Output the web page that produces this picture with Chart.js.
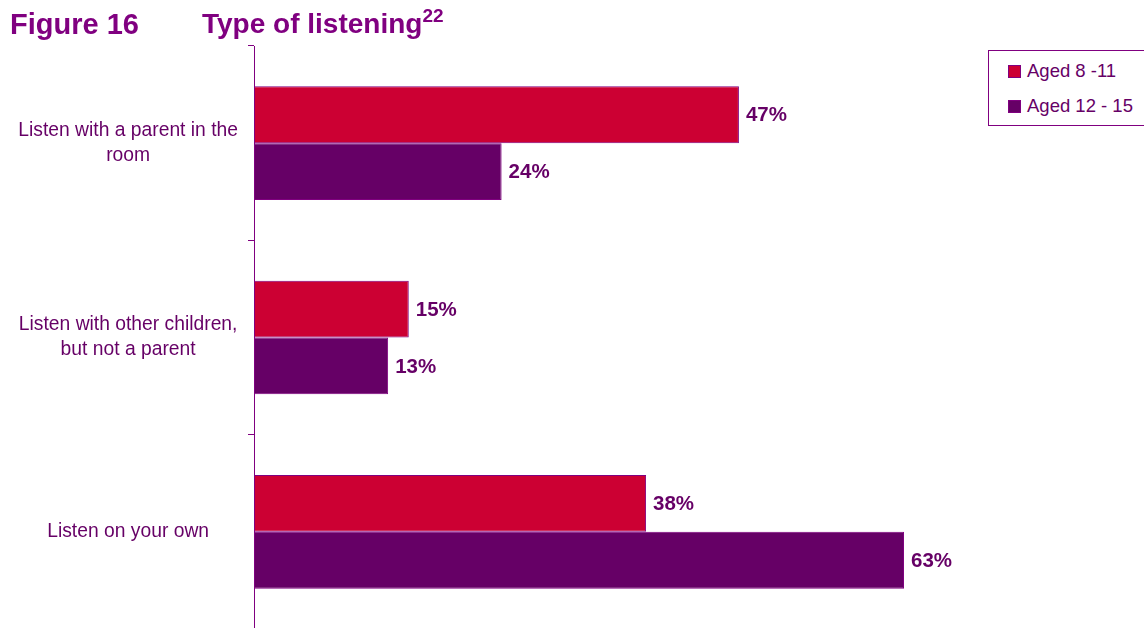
<!DOCTYPE html>
<html>
<head>
<meta charset="utf-8">
<script src="https://cdn.jsdelivr.net/npm/chart.js@4.4.1/dist/chart.umd.min.js"></script>
<style>
  html, body { margin: 0; padding: 0; background: #fff; width: 1144px; height: 628px; overflow: hidden; }
  #wrap { position: absolute; left: 0; top: 0; width: 1144px; height: 700px; }
  .title { position: absolute; top: 8px; font-family: "Liberation Sans", Arial, sans-serif; font-weight: bold; font-size: 29px; line-height: 32px; color: #800080; white-space: nowrap; }
  .title sup { font-size: 19px; position: relative; top: -2px; vertical-align: top; line-height: 19px; }
  #legend { position: absolute; left: 988px; top: 50px; width: 170px; height: 74px; border: 1px solid #800080; background: #fff;
            font-family: "Liberation Sans", Arial, sans-serif; font-size: 18.5px; color: #660066; }
  .li { position: absolute; left: 19px; height: 20px; line-height: 20px; white-space: nowrap; }
  .sw { display: inline-block; width: 13px; height: 13px; vertical-align: -1px; margin-right: 6px; box-sizing: border-box; border: 1px solid #800080; }
</style>
</head>
<body>
<div id="wrap"><canvas id="c" width="1144" height="700"></canvas></div>
<div class="title" style="left:10px">Figure 16</div>
<div class="title" style="left:202px; font-size:28px">Type of listening<sup>22</sup></div>
<div id="legend"></div>
<script>
const categories = [
  ["Listen with a parent in the", "room"],
  ["Listen with other children,", "but not a parent"],
  ["Listen on your own"]
];
const seriesNames = ["Aged 8 -11", "Aged 12 - 15"];
const aged8to11 = [47, 15, 38];
const aged12to15 = [24, 13, 63];
const seriesColors = ["#CC0033", "#660066"];

const legendEl = document.getElementById('legend');
seriesNames.forEach((n, i) => {
  const d = document.createElement('div');
  d.className = 'li';
  d.style.top = (10 + i * 35) + 'px';
  d.innerHTML = '<span class="sw" style="background:' + seriesColors[i] + '"></span>' + n;
  legendEl.appendChild(d);
});

const valueLabels = {
  id: 'valueLabels',
  afterDatasetsDraw(chart) {
    const ctx = chart.ctx;
    ctx.save();
    ctx.font = 'bold 20.5px "Liberation Sans", Arial, sans-serif';
    ctx.fillStyle = '#660066';
    ctx.textAlign = 'left';
    ctx.textBaseline = 'middle';
    chart.data.datasets.forEach((ds, di) => {
      chart.getDatasetMeta(di).data.forEach((bar, i) => {
        ctx.fillText(ds.data[i] + '%', bar.x + 7, bar.y + 1);
      });
    });
    ctx.restore();
  }
};

const chart = new Chart(document.getElementById('c'), {
  type: 'bar',
  data: {
    labels: categories,
    datasets: [
      { label: seriesNames[0], data: aged8to11, backgroundColor: seriesColors[0], borderColor: '#800080', borderWidth: 1, borderSkipped: false },
      { label: seriesNames[1], data: aged12to15, backgroundColor: seriesColors[1], borderColor: '#800080', borderWidth: 1, borderSkipped: false }
    ]
  },
  options: {
    indexAxis: 'y',
    responsive: false,
    animation: false,
    devicePixelRatio: 1,
    layout: { padding: { left: 0, right: 13, top: 46, bottom: 71 } },
    datasets: { bar: { categoryPercentage: 0.585, barPercentage: 1.0 } },
    plugins: { legend: { display: false }, tooltip: { enabled: false } },
    scales: {
      x: { display: false, min: 0, max: 85 },
      y: {
        offset: true,
        border: { display: true, color: '#800080', width: 1 },
        grid: { offset: true, drawOnChartArea: false, drawTicks: true, tickLength: 6, color: '#800080' },
        ticks: {
          crossAlign: 'center',
          color: '#660066',
          padding: 10,
          font: { family: '"Liberation Sans", Arial, sans-serif', size: 19.3, lineHeight: 1.3 }
        },
        afterFit(scale) { scale.width = 254; }
      }
    }
  },
  plugins: [valueLabels]
});
</script>
</body>
</html>
